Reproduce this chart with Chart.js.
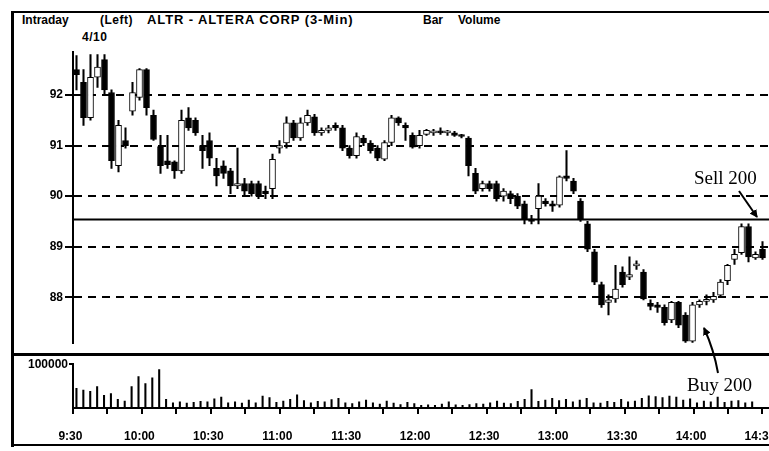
<!DOCTYPE html>
<html>
<head>
<meta charset="utf-8">
<script src="https://cdn.jsdelivr.net/npm/chart.js@4.4.1/dist/chart.umd.min.js"></script>
<style>
    body {
        margin: 0;
        width: 769px;
        height: 451px;
        overflow: hidden;
        background: #fff;
        position: relative;
        font-family: "Liberation Sans", Arial, sans-serif;
    }
    canvas { position: absolute; left: 0; }
    #price_chart { top: 0; }
    #volume_chart { top: 356px; }
    .frame-left { position: absolute; left: 11px; top: 11px; width: 3px; height: 436px; background: #000; }
    .frame-top { position: absolute; left: 11px; top: 11px; width: 760px; height: 2px; background: #000; }
    .frame-bottom { position: absolute; left: 11px; top: 444px; width: 760px; height: 2px; background: #000; }
    .separator { position: absolute; left: 11px; top: 353px; width: 760px; height: 3px; background: #000; }
    .txt { position: absolute; white-space: nowrap; line-height: 1; color: #000; font-weight: bold; font-size: 12px; }
    .note { position: absolute; white-space: nowrap; line-height: 1; color: #000; font-family: "Liberation Serif", "Times New Roman", serif; font-size: 19px; }
    svg { position: absolute; left: 0; top: 0; }
</style>
</head>
<body>
<div class="frame-left"></div>
<div class="frame-top"></div>
<div class="frame-bottom"></div>
<div class="separator"></div>

<span class="txt" style="left:22px; top:14px;">Intraday</span>
<span class="txt" style="left:100px; top:14px; letter-spacing:0.5px;">(Left)</span>
<span class="txt" style="left:147px; top:13px; font-size:13px; letter-spacing:0.9px;">ALTR - ALTERA CORP (3-Min)</span>
<span class="txt" style="left:423px; top:14px;">Bar</span>
<span class="txt" style="left:458px; top:14px;">Volume</span>
<span class="txt" style="left:82px; top:31px; letter-spacing:0.5px;">4/10</span>

<canvas id="price_chart" width="843" height="352"></canvas>
<canvas id="volume_chart" width="843" height="90"></canvas>

<span class="note" style="left:694px; top:168px;">Sell 200</span>
<span class="note" style="left:687px; top:375px;">Buy 200</span>

<svg width="769" height="451">
    <defs>
        <marker id="head" markerWidth="8" markerHeight="8" refX="7" refY="4" orient="auto" markerUnits="userSpaceOnUse">
            <path d="M0,0 L8,4 L0,8 Z" fill="#000"/>
        </marker>
    </defs>
    <line x1="739" y1="191" x2="757" y2="217" stroke="#000" stroke-width="2" marker-end="url(#head)"/>
    <path d="M718,373 Q714,350 704,328" fill="none" stroke="#000" stroke-width="2" marker-end="url(#head)"/>
</svg>

<script>
// 3-minute bars, 4/10
const opens = [92.50, 92.25, 91.55, 92.35, 92.70, 92.05, 90.60, 91.10, 91.68, 91.95,
    92.50, 91.60, 90.98, 90.70, 90.68, 90.50, 91.55, 91.50, 91.00, 91.10,
    90.55, 90.60, 90.50, 90.20, 90.25, 90.25, 90.25, 90.10, 90.15, 90.95,
    91.05, 91.45, 91.15, 91.45, 91.57, 91.25, 91.30, 91.40, 91.35, 90.95,
    90.80, 91.15, 91.05, 90.95, 90.73, 91.06, 91.55, 91.40, 91.20, 91.00,
    91.22, 91.25, 91.28, 91.25, 91.25, 91.20, 91.15, 90.45, 90.15, 90.25,
    90.25, 90.00, 90.05, 90.00, 89.85, 89.55, 89.75, 89.90, 89.85, 89.82,
    90.40, 90.30, 89.90, 89.45, 88.90, 88.25, 87.90, 87.97, 88.50, 88.40,
    88.62, 88.50, 87.88, 87.85, 87.80, 87.55, 87.90, 87.65, 87.13, 87.85,
    87.92, 87.95, 88.04, 88.33, 88.75, 88.88, 89.40, 88.78, 88.95];
const highs = [92.78, 92.50, 92.80, 92.80, 92.80, 92.10, 91.50, 91.35, 92.25, 92.52,
    92.52, 91.70, 91.20, 91.20, 90.70, 91.70, 91.75, 91.55, 91.20, 91.25,
    90.75, 90.70, 90.55, 90.95, 90.35, 90.30, 90.30, 90.20, 90.83, 91.10,
    91.57, 91.50, 91.55, 91.70, 91.62, 91.35, 91.40, 91.45, 91.40, 91.00,
    91.25, 91.20, 91.10, 91.00, 91.10, 91.60, 91.57, 91.45, 91.25, 91.30,
    91.32, 91.32, 91.35, 91.30, 91.28, 91.22, 91.18, 90.55, 90.30, 90.30,
    90.30, 90.15, 90.10, 90.05, 89.90, 89.62, 90.25, 89.95, 89.90, 90.40,
    90.90, 90.35, 89.95, 89.50, 88.95, 88.30, 88.05, 88.63, 88.60, 88.80,
    88.72, 88.55, 87.95, 87.90, 87.85, 87.92, 87.92, 87.70, 87.90, 87.95,
    88.05, 88.10, 88.35, 88.65, 88.95, 89.45, 89.45, 88.90, 89.10];
const lows = [92.10, 91.40, 91.50, 92.15, 92.00, 90.55, 90.48, 90.95, 91.60, 91.90,
    91.60, 91.10, 90.45, 90.55, 90.35, 90.45, 91.30, 91.20, 90.55, 90.60,
    90.20, 90.35, 90.05, 90.15, 90.00, 90.00, 89.95, 89.95, 89.95, 90.85,
    90.95, 91.10, 91.10, 91.40, 91.20, 91.20, 91.25, 91.30, 90.90, 90.75,
    90.75, 91.00, 90.85, 90.70, 90.70, 91.00, 91.40, 91.10, 90.95, 90.95,
    91.20, 91.20, 91.22, 91.20, 91.18, 91.15, 90.40, 90.05, 90.10, 90.10,
    89.90, 89.90, 89.85, 89.75, 89.45, 89.45, 89.45, 89.80, 89.70, 89.78,
    90.30, 90.05, 89.50, 88.90, 88.25, 87.80, 87.65, 87.90, 88.20, 88.35,
    88.55, 87.95, 87.75, 87.70, 87.45, 87.50, 87.40, 87.10, 87.10, 87.80,
    87.85, 87.90, 88.00, 88.25, 88.65, 88.85, 88.70, 88.75, 88.75];
const closes = [92.40, 91.55, 92.35, 92.55, 92.10, 90.70, 91.40, 91.00, 92.05, 92.50,
    91.75, 91.12, 90.60, 90.62, 90.50, 91.50, 91.35, 91.25, 90.90, 90.75,
    90.40, 90.45, 90.20, 90.25, 90.10, 90.05, 90.00, 90.05, 90.73, 91.00,
    91.45, 91.15, 91.45, 91.60, 91.25, 91.30, 91.35, 91.35, 90.95, 90.80,
    91.18, 91.05, 90.90, 90.75, 91.06, 91.55, 91.45, 91.35, 90.97, 91.20,
    91.30, 91.28, 91.25, 91.27, 91.20, 91.18, 90.60, 90.10, 90.25, 90.15,
    89.95, 90.10, 89.95, 89.80, 89.55, 89.50, 90.00, 89.85, 89.80, 90.38,
    90.35, 90.10, 89.53, 88.95, 88.30, 87.85, 87.95, 88.16, 88.25, 88.45,
    88.65, 87.97, 87.82, 87.80, 87.50, 87.90, 87.45, 87.13, 87.85, 87.92,
    87.95, 88.02, 88.30, 88.63, 88.85, 89.40, 88.80, 88.85, 88.78];
const volumes = [45000, 41000, 38000, 49000, 29000, 33000, 20000, 16000, 49000, 72000,
    56000, 69000, 88000, 20000, 12000, 14000, 11000, 13000, 15000, 14000,
    21000, 25000, 12000, 14000, 11000, 18000, 12000, 27000, 24000, 13000,
    16000, 20000, 30000, 17000, 12000, 15000, 14000, 19000, 22000, 12000,
    10000, 14000, 18000, 12000, 9000, 16000, 11000, 8000, 13000, 10000,
    6000, 7000, 6000, 9000, 14000, 7000, 6000, 8000, 10000, 9000,
    12000, 16000, 11000, 10000, 15000, 20000, 42000, 15000, 18000, 22000,
    17000, 20000, 14000, 18000, 22000, 12000, 11000, 15000, 13000, 20000,
    14000, 16000, 22000, 28000, 26000, 24000, 27000, 25000, 18000, 21000,
    12000, 16000, 14000, 25000, 13000, 16000, 17000, 12000, 14000];

const priceTicks = [88, 89, 90, 91, 92];
const timeTicks = ['9:30', '10:00', '10:30', '11:00', '11:30', '12:00', '12:30', '13:00', '13:30', '14:00', '14:30'];
const refPrice = 89.55;

// one slot per 3-min bar, the axis runs past the last bar
const barTimes = [];
for (let m = 9 * 60 + 30; barTimes.length < 110; m += 3) {
    barTimes.push(Math.floor(m / 60) + ':' + String(m % 60).padStart(2, '0'));
}

const AXIS_W = 73;
const ink = '#000';

const refLine = {
    id: 'refLine',
    beforeDatasetsDraw(chart) {
        const {ctx, chartArea, scales: {y}} = chart;
        const py = Math.round(y.getPixelForValue(refPrice)) + 0.5;
        ctx.save();
        ctx.strokeStyle = ink;
        ctx.lineWidth = 2;
        ctx.beginPath();
        ctx.moveTo(chartArea.left, py);
        ctx.lineTo(chartArea.right, py);
        ctx.stroke();
        ctx.restore();
    }
};

const priceChart = new Chart(document.getElementById('price_chart'), {
    type: 'bar',
    data: {
        labels: barTimes,
        datasets: [
            {
                // wicks
                data: lows.map((l, i) => [l, highs[i]]),
                backgroundColor: ink,
                barThickness: 1.4,
                grouped: false,
                order: 2
            },
            {
                // bodies
                data: opens.map((o, i) => [o, closes[i]]),
                backgroundColor: opens.map((o, i) => closes[i] < o ? ink : '#fff'),
                borderColor: ink,
                borderWidth: 1,
                borderSkipped: false,
                barThickness: 6,
                minBarLength: 2,
                grouped: false,
                order: 1
            }
        ]
    },
    plugins: [refLine],
    options: {
        responsive: false,
        animation: false,
        layout: {padding: {top: 52, bottom: 5, left: 0, right: 0}},
        plugins: {legend: {display: false}, tooltip: {enabled: false}},
        scales: {
            x: {display: false},
            y: {
                min: 87.1,
                max: 92.85,
                afterFit: (scale) => { scale.width = AXIS_W; },
                afterBuildTicks: (scale) => { scale.ticks = priceTicks.map(v => ({value: v})); },
                border: {display: true, color: ink, width: 2, dash: [8, 6]},
                grid: {color: ink, lineWidth: 2, tickLength: 8},
                ticks: {
                    color: ink,
                    padding: 2,
                    font: {family: 'Liberation Sans', size: 12, weight: 'bold'},
                    callback: (v) => String(v)
                }
            }
        }
    }
});

const volumeChart = new Chart(document.getElementById('volume_chart'), {
    type: 'bar',
    data: {
        labels: barTimes,
        datasets: [{
            data: volumes,
            backgroundColor: ink,
            barThickness: 1.4
        }]
    },
    options: {
        responsive: false,
        animation: false,
        layout: {padding: {top: 4, bottom: 0, left: 0, right: 0}},
        plugins: {legend: {display: false}, tooltip: {enabled: false}},
        scales: {
            x: {
                afterFit: (scale) => { scale.height = 38; },
                border: {display: true, color: ink, width: 2},
                grid: {
                    drawOnChartArea: false,
                    tickLength: 6,
                    lineWidth: 2,
                    color: (ctx) => ctx.index % 5 === 0 ? ink : 'rgba(0,0,0,0)'
                },
                ticks: {
                    autoSkip: false,
                    maxRotation: 0,
                    padding: 15,
                    labelOffset: -6,
                    color: ink,
                    font: {family: 'Liberation Sans', size: 12, weight: 'bold'},
                    callback: function (v) {
                        const t = this.getLabelForValue(v);
                        return timeTicks.includes(t) ? t : '';
                    }
                }
            },
            y: {
                min: 0,
                max: 100000,
                afterFit: (scale) => { scale.width = AXIS_W; },
                afterBuildTicks: (scale) => { scale.ticks = [{value: 100000}]; },
                border: {display: true, color: ink, width: 2},
                grid: {drawOnChartArea: false, tickLength: 4, lineWidth: 2, color: ink},
                ticks: {
                    color: ink,
                    padding: 1,
                    font: {family: 'Liberation Sans', size: 12, weight: 'bold'},
                    callback: (v) => String(v)
                }
            }
        }
    }
});
</script>
</body>
</html>
